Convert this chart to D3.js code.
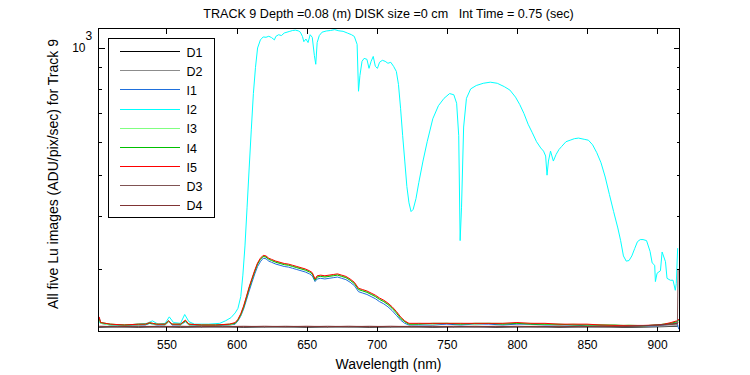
<!DOCTYPE html>
<html>
<head>
<meta charset="utf-8">
<script src="https://cdn.jsdelivr.net/npm/d3@7"></script>
<style>
  body { margin: 0; background: #fff; }
  svg { display: block; font-family: "Liberation Sans", Arial, sans-serif; }
  .tick text { font-size: 12px; fill: #000; }
</style>
</head>
<body>
<div id="chart"></div>
<script>
// Series names and colours, in plot (and legend) order
var seriesNames = ["D1", "D2", "I1", "I2", "I3", "I4", "I5", "D3", "D4"];
var seriesColors = ["#000000", "#8c8c8c", "#1f6fdc", "#00ffff", "#80ff80", "#00c000", "#ff0000", "#805454", "#803434"];

var xTicks = [550, 600, 650, 700, 750, 800, 850, 900];
var yMinorTicks = [300, 400, 500, 600, 700, 800, 900];
var yMajorTicks = [1000];

// I2 (big spectrum) wavelength / value pairs
var wlI2 = [502, 510, 520, 530, 536, 540, 544, 549, 552, 555, 560, 563, 566, 570, 580, 588, 592, 596, 599, 601,
  603, 604.5, 606, 607.5, 609, 610.5, 612, 613.5, 615, 617, 619, 621, 623, 625, 627, 628, 630, 632, 634, 636,
  638, 640, 642, 644, 645.5, 647, 648, 649.5, 651, 652.5, 654, 655.5, 656.5, 657.5, 659, 661, 664, 667, 670, 673,
  676, 679, 682, 684, 686, 687, 688, 689.5, 691, 693, 694.5, 696, 697.5, 699, 700.5, 702, 704, 706, 708, 710,
  712, 714, 715.5, 717, 718.5, 720, 721.5, 723, 724.5, 726, 728, 730, 733, 736, 740, 744, 748, 752, 755, 757,
  758.5, 759.5, 760.5, 762, 764, 767, 771, 776, 781, 786, 791, 795, 799, 802, 805, 808, 811, 814, 817, 819,
  820.5, 821.5, 822.5, 824, 826, 828, 830, 832, 835, 838, 841, 844, 848, 851, 854, 857, 860, 863, 866, 869,
  872, 874, 876, 878, 880, 882, 884, 886, 888, 890, 892.5, 895, 896.5, 898.3, 898.8, 900, 902.4, 903.6, 906, 907.1,
  909.5, 911.4, 913, 913.7, 914.7];
var valI2 = [224, 221, 221, 222, 223, 226, 222, 223, 231, 224, 223, 234, 225, 222, 222, 223, 226, 230, 236, 242,
  258, 290, 340, 420, 520, 640, 780, 900, 1000, 1045, 1062, 1060, 1066, 1058, 1045, 1065, 1075, 1070, 1085, 1090,
  1095, 1100, 1102, 1098, 1090, 1065, 1035, 1050, 1030, 1075, 1060, 960, 915, 1030, 1070, 1090, 1097, 1100, 1105, 1098,
  1095, 1085, 1075, 1065, 1020, 790, 860, 930, 945, 940, 895, 930, 955, 905, 895, 925, 935, 930, 920, 925,
  905, 880, 820, 720, 620, 540, 470, 430, 410, 415, 440, 480, 540, 600, 680, 730, 760, 780, 775, 740,
  620, 350, 420, 650, 760, 800, 815, 825, 830, 825, 810, 795, 765, 735, 700, 660, 630, 600, 580, 570,
  555, 500, 540, 570, 540, 560, 575, 585, 600, 605, 610, 612, 608, 605, 590, 565, 535, 495, 450, 410,
  375, 350, 322, 313, 314, 322, 335, 348, 352, 352, 350, 330, 310, 306, 280, 293, 297, 329, 312, 285,
  282, 282, 267, 277, 336];

// shared wavelength grid for the small spectra I1, I3, I4, I5
var wlSmall = [502, 503, 510, 520, 530, 535, 538, 540, 543, 549, 551.5, 554, 560, 563.5, 566, 575, 585, 595, 599, 601,
  603, 605, 607, 609, 611, 613, 615, 617, 619, 621, 623, 625, 628, 631, 634, 637, 640, 643, 646, 649,
  652, 654, 656, 657.5, 660, 663, 666, 669, 672, 675, 678, 681, 684, 687, 690, 693, 696, 699, 702, 705,
  708, 711, 714, 717, 720, 723, 730, 740, 750, 760, 770, 780, 790, 800, 810, 820, 830, 840, 850, 860,
  870, 880, 890, 900, 905, 910, 914, 915.5];
var valI5 = [231, 224, 222, 221, 222, 222, 224, 223, 222, 222, 226, 222, 222, 227, 222, 221, 221, 222, 224, 228,
  235, 245, 258, 272, 285, 298, 310, 318, 323, 322, 318, 316, 313, 311, 309, 308, 306, 304, 302, 300,
  297, 294, 284, 289, 290, 289, 290, 291, 292, 290, 288, 284, 279, 270, 268, 266, 263, 260, 256, 253,
  249, 244, 238, 231, 226, 223, 223, 223, 223, 223, 223, 223, 223, 224, 223, 223, 222, 222, 222, 221,
  220.5, 220.5, 220.5, 221, 222, 224, 226, 228];
var valI1 = [230, 223, 221, 220, 221, 221, 223, 222, 221, 221, 225, 221, 221, 225, 221, 220, 220, 221, 222, 226,
  232, 241, 253, 266, 279, 292, 304, 312, 318, 317, 313, 311, 308, 306, 304, 303, 301, 299, 297, 295,
  292, 289, 280, 284, 285, 284, 285, 286, 287, 285, 283, 279, 274, 265, 263, 261, 258, 255, 251, 248,
  244, 239, 233, 227, 223, 221, 221, 221, 222, 221, 222, 222, 221, 222, 222, 221, 221, 221, 220, 220,
  220, 220, 220, 220, 221, 222, 224, 216];
var valI4 = [229, 224, 222, 221, 222, 222, 223, 223, 222, 222, 226, 222, 222, 226, 222, 221, 221, 222, 223, 227,
  234, 243, 256, 270, 283, 296, 308, 316, 321, 320, 316, 314, 311, 309, 307, 306, 304, 302, 300, 298,
  295, 292, 282, 287, 288, 287, 288, 289, 290, 288, 286, 282, 277, 268, 266, 264, 261, 258, 254, 251,
  247, 242, 236, 229, 225, 222, 222, 223, 223, 222, 223, 223, 222, 223, 222, 222, 222, 221, 221, 221,
  221, 220, 220, 221, 222, 223, 225, 227];
var valI3 = [228, 223, 221, 221, 221, 222, 224, 222, 222, 221, 225, 222, 221, 226, 221, 221, 221, 221, 223, 227,
  233, 244, 257, 271, 284, 297, 309, 317, 322, 321, 317, 315, 312, 310, 308, 307, 305, 303, 301, 299,
  296, 293, 283, 288, 289, 288, 289, 290, 291, 289, 287, 283, 278, 269, 267, 265, 262, 259, 255, 252,
  248, 243, 237, 230, 225, 222, 223, 222, 223, 223, 222, 223, 223, 223, 223, 222, 221, 222, 221, 221,
  220, 221, 220, 221, 222, 223, 225, 226];

// dark frames
var wlDark = [502, 515, 530, 545, 560, 575, 590, 605, 620, 635, 650, 665, 680, 695, 710, 725, 740, 755, 770, 785,
  800, 815, 830, 845, 860, 875, 890, 905, 914.5, 915];
var valD1 = [218, 218.5, 218, 218.5, 218, 218, 218.5, 218, 218, 218.5, 218, 218, 218.5, 218, 218, 218.5, 218, 218, 218.5, 218,
  218, 218.5, 218, 218, 218.5, 218, 218.5, 219, 219.5, 220];
var valD2 = [218.5, 218, 218.5, 218, 218.5, 218, 218, 218.5, 218, 218, 218.5, 218, 218, 218.5, 218, 218, 218.5, 218, 218, 218.5,
  218, 218, 218.5, 218, 218, 218.5, 219, 219.5, 220, 221];
var valD3 = [219, 219.5, 219, 219.5, 219, 219.5, 219, 219.5, 219, 219.5, 219, 219.5, 219, 219.5, 219, 219.5, 219, 219.5, 219, 219.5,
  219, 219.5, 219, 219.5, 219, 219.5, 220, 221, 222, 300];
var valD4 = [219.5, 219, 219.5, 219, 219.5, 219, 219.5, 219, 219.5, 219, 219.5, 219, 219.5, 219, 219.5, 219, 219.5, 219, 219.5, 219,
  219.5, 219, 219.5, 219, 219.5, 219, 220, 221.5, 223, 224];

var seriesData = [
  [wlDark, valD1], [wlDark, valD2], [wlSmall, valI1], [wlI2, valI2], [wlSmall, valI3],
  [wlSmall, valI4], [wlSmall, valI5], [wlDark, valD3], [wlDark, valD4]
];

// Chart params
var svgWidth = 750;
var svgHeight = 375;
var margin = { top: 28, right: 71, bottom: 44, left: 98 };
var width = svgWidth - margin.left - margin.right;
var height = svgHeight - margin.top - margin.bottom;

var svg = d3.select("#chart")
  .append("svg")
  .attr("width", svgWidth)
  .attr("height", svgHeight);

var chartGroup = svg.append("g")
  .attr("transform", `translate(${margin.left + 0.5}, ${margin.top + 0.5})`);

var xScale = d3.scaleLinear().domain([501.5, 916]).range([0, width]);
var yScale = d3.scaleLog().domain([213.3, 1112]).range([height, 0]);

chartGroup.append("clipPath").attr("id", "clip")
  .append("rect").attr("width", width).attr("height", height);

// data lines
var line = d3.line()
  .x(d => xScale(d[0]))
  .y(d => yScale(d[1]));

var plotGroup = chartGroup.append("g").attr("clip-path", "url(#clip)");
seriesData.forEach(function(s, i) {
  var pts = s[0].map((w, j) => [w, s[1][j]]);
  plotGroup.append("path")
    .datum(pts)
    .attr("d", line)
    .attr("fill", "none")
    .attr("stroke", seriesColors[i])
    .attr("stroke-width", 1);
});

// axes: ticks point inward, on all four sides
function strip(g) { g.select(".domain").remove(); g.selectAll("line").attr("stroke", "#000"); }

chartGroup.append("g")
  .attr("transform", `translate(0, ${height})`)
  .call(d3.axisBottom(xScale).tickValues(xTicks).tickSize(-5).tickPadding(9).tickFormat(d3.format("d")))
  .call(strip);
chartGroup.append("g")
  .call(d3.axisTop(xScale).tickValues(xTicks).tickSize(-5).tickFormat(""))
  .call(strip);

chartGroup.append("g")
  .call(d3.axisLeft(yScale).tickValues(yMinorTicks).tickSize(-3).tickFormat(""))
  .call(strip);
chartGroup.append("g")
  .call(d3.axisLeft(yScale).tickValues(yMajorTicks).tickSize(-6).tickFormat(""))
  .call(strip);
chartGroup.append("g")
  .attr("transform", `translate(${width}, 0)`)
  .call(d3.axisRight(yScale).tickValues(yMinorTicks).tickSize(-3).tickFormat(""))
  .call(strip);
chartGroup.append("g")
  .attr("transform", `translate(${width}, 0)`)
  .call(d3.axisRight(yScale).tickValues(yMajorTicks).tickSize(-6).tickFormat(""))
  .call(strip);

chartGroup.selectAll(".tick line").attr("shape-rendering", "crispEdges");

chartGroup.append("rect")
  .attr("width", width)
  .attr("height", height)
  .attr("fill", "none")
  .attr("stroke", "#000")
  .attr("shape-rendering", "crispEdges");

// 10^3 label
chartGroup.append("text")
  .attr("x", -13)
  .attr("y", yScale(1000) + 4)
  .attr("text-anchor", "end")
  .attr("font-size", 12)
  .text("10");
chartGroup.append("text")
  .attr("x", -13)
  .attr("y", yScale(1000) - 8)
  .attr("font-size", 12)
  .text("3");

// legend
var legend = chartGroup.append("g").attr("transform", "translate(10, 10)");
legend.append("rect")
  .attr("width", 106)
  .attr("height", 179)
  .attr("fill", "#fff")
  .attr("stroke", "#000")
  .attr("shape-rendering", "crispEdges");
seriesNames.forEach(function(name, i) {
  var yy = 13 + i * 19.2;
  legend.append("line")
    .attr("x1", 11).attr("x2", 71)
    .attr("y1", Math.round(yy)).attr("y2", Math.round(yy))
    .attr("stroke", seriesColors[i])
    .attr("shape-rendering", "crispEdges");
  legend.append("text")
    .attr("x", 78)
    .attr("y", yy + 5)
    .attr("font-size", 12.5)
    .text(name);
});

// titles
svg.append("text")
  .attr("x", margin.left + width / 2)
  .attr("y", 18)
  .attr("text-anchor", "middle")
  .attr("font-size", 12.6)
  .style("white-space", "pre")
  .text("TRACK 9 Depth =0.08 (m) DISK size =0 cm   Int Time = 0.75 (sec)");

svg.append("text")
  .attr("x", margin.left + width / 2)
  .attr("y", 369)
  .attr("text-anchor", "middle")
  .attr("font-size", 14)
  .text("Wavelength (nm)");

svg.append("text")
  .attr("transform", "translate(58, 174) rotate(-90)")
  .attr("text-anchor", "middle")
  .attr("font-size", 14)
  .text("All five Lu images (ADU/pix/sec) for Track 9");
</script>
</body>
</html>
